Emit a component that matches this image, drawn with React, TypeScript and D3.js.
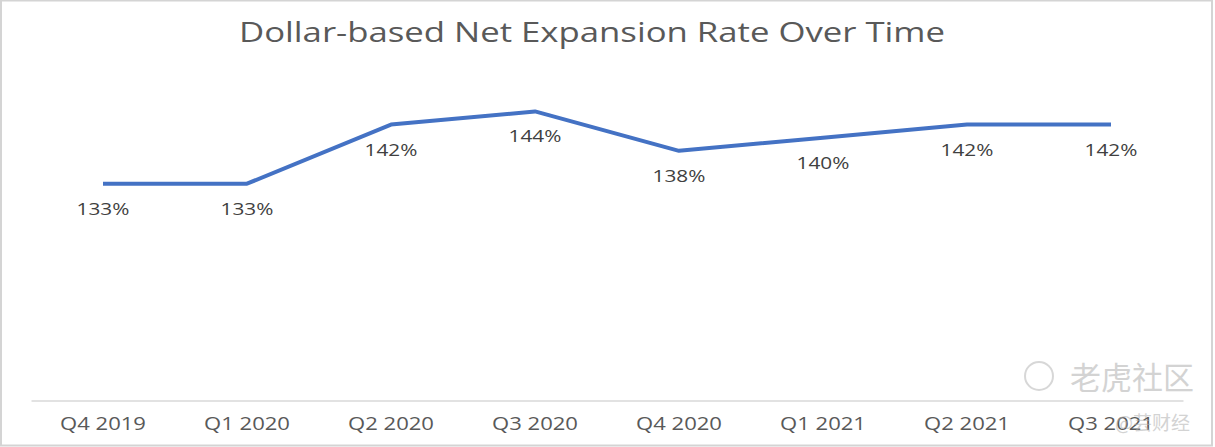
import React, { useEffect, useRef } from 'react';
import * as d3 from 'd3';

const quarters = ['Q4 2019', 'Q1 2020', 'Q2 2020', 'Q3 2020', 'Q4 2020', 'Q1 2021', 'Q2 2021', 'Q3 2021'];
const rates = [133, 133, 142, 144, 138, 140, 142, 142];
const yDomain = [100, 150];
const title = 'Dollar-based Net Expansion Rate Over Time';

const App: React.FC = () => {
  const svgRef = useRef<SVGSVGElement | null>(null);
  const width = 1215;
  const height = 447;

  useEffect(() => {
    if (!svgRef.current) return;
    const svg = d3.select(svgRef.current);
    svg.selectAll('*').remove();

    const margin = { top: 72, right: 32, bottom: 46.5, left: 31 };
    const font = "'Open Sans', 'Noto Sans', sans-serif";
    const stretch = 1.26; // the reference text is drawn wider than normal

    const widen = function (this: SVGTextElement) {
      const len = this.getComputedTextLength();
      d3.select(this).attr('textLength', len * stretch).attr('lengthAdjust', 'spacingAndGlyphs');
    };

    // frame
    svg
      .append('rect')
      .attr('x', 1)
      .attr('y', 0.5)
      .attr('width', width - 4)
      .attr('height', height - 2)
      .attr('fill', '#fff')
      .attr('stroke', '#d4d4d4')
      .attr('stroke-width', 2);

    const x = d3
      .scaleBand<string>()
      .domain(quarters)
      .range([margin.left, width - margin.right]);

    const y = d3
      .scaleLinear()
      .domain(yDomain)
      .range([height - margin.bottom, margin.top]);

    // title
    svg
      .append('text')
      .attr('x', 592)
      .attr('y', 42)
      .attr('text-anchor', 'middle')
      .attr('textLength', 706)
      .attr('lengthAdjust', 'spacingAndGlyphs')
      .style('font-family', font)
      .style('font-size', '27px')
      .style('fill', '#595959')
      .text(title);

    // x axis
    const xAxis = svg
      .append('g')
      .attr('transform', `translate(0,${height - margin.bottom})`)
      .call(d3.axisBottom(x).tickSize(0).tickPadding(17));
    xAxis.select('.domain').attr('stroke', '#d9d9d9').attr('stroke-width', 1.3);
    xAxis
      .selectAll<SVGTextElement, string>('text')
      .style('font-family', font)
      .style('font-size', '17.5px')
      .style('fill', '#595959')
      .each(widen);

    // line
    const line = d3
      .line<number>()
      .x((_, i) => (x(quarters[i]) as number) + x.bandwidth() / 2)
      .y((d) => y(d));

    svg
      .append('path')
      .datum(rates)
      .attr('fill', 'none')
      .attr('stroke', '#4472c4')
      .attr('stroke-width', 4)
      .attr('stroke-linejoin', 'round')
      .attr('d', line);

    // data labels
    svg
      .append('g')
      .selectAll<SVGTextElement, number>('text')
      .data(rates)
      .join('text')
      .attr('x', (_, i) => (x(quarters[i]) as number) + x.bandwidth() / 2)
      .attr('y', (d) => y(d) + 31)
      .attr('text-anchor', 'middle')
      .style('font-family', font)
      .style('font-size', '16.5px')
      .style('fill', '#404040')
      .text((d) => `${d}%`)
      .each(widen);

    // watermark
    const wm = svg.append('g').style('opacity', 0.55);
    wm.append('circle')
      .attr('cx', 1039)
      .attr('cy', 376)
      .attr('r', 14)
      .attr('fill', 'none')
      .attr('stroke', '#b8b8b8')
      .attr('stroke-width', 2);
    wm.append('text')
      .attr('x', 1070)
      .attr('y', 389)
      .style('font-family', "'Noto Sans CJK SC', sans-serif")
      .style('font-size', '31px')
      .style('fill', '#b0b0b0')
      .text('老虎社区');
    wm.append('text')
      .attr('x', 1115)
      .attr('y', 430)
      .style('font-family', "'Noto Sans CJK SC', sans-serif")
      .style('font-size', '19px')
      .style('fill', '#b0b0b0')
      .text('@芸财经');
  }, []);

  return (
    <div style={{ position: 'absolute', left: 0, top: 0 }}>
      <svg ref={svgRef} width={width} height={height} style={{ display: 'block' }}></svg>
    </div>
  );
};

export default App;
